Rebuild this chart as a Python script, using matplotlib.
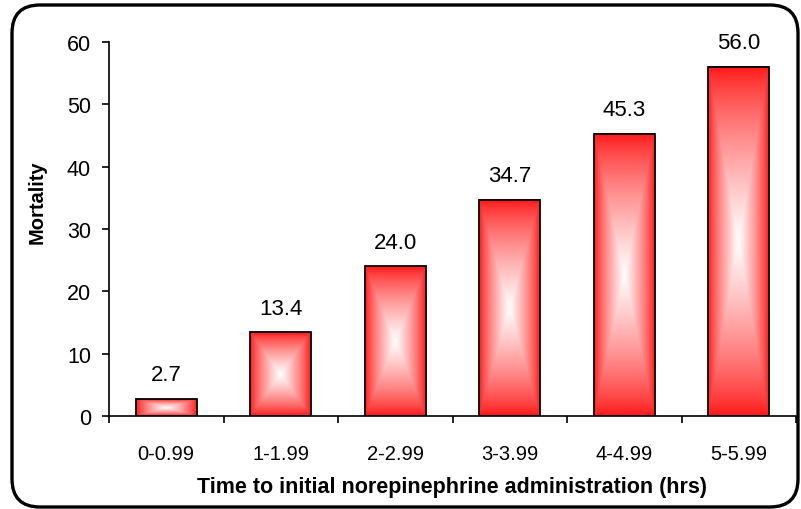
import numpy as np
import matplotlib.pyplot as plt
from matplotlib.patches import FancyBboxPatch, Rectangle

plt.rcParams['font.family'] = ['Liberation Sans', 'DejaVu Sans']

# mortality (%) by hours until first norepinephrine dose
categories = ['0-0.99', '1-1.99', '2-2.99', '3-3.99', '4-4.99', '5-5.99']
mortality = [2.7, 13.4, 24.0, 34.7, 45.3, 56.0]
yticks = [0, 10, 20, 30, 40, 50, 60]

W, H = 801, 510
fig = plt.figure(figsize=(W / 100, H / 100), dpi=100)

# axes box in pixel units
x0, x1 = 109, 796
y0, y1 = 417, 43
ax = fig.add_axes([x0 / W, (H - y0) / H, (x1 - x0) / W, (y0 - y1) / H])

bar_w = 0.53
red = np.array([1.0, 0.07, 0.07])
white = np.array([1.0, 1.0, 1.0])

for i, v in enumerate(mortality):
    left = i + 0.5 - bar_w / 2
    n = 200
    u = (np.arange(n) + 0.5) / n * 2 - 1
    U, V = np.meshgrid(u, u)
    # rectangular shading: red at the edges, white in the middle
    t = 1 - np.maximum(np.abs(U), np.abs(V))
    t = np.clip(t, 0, 1) ** 0.75
    img = red[None, None, :] * (1 - t[..., None]) + white[None, None, :] * t[..., None]
    ax.imshow(img, extent=[left, left + bar_w, 0, v], origin='lower',
              aspect='auto', interpolation='bilinear', zorder=2)
    ax.add_patch(Rectangle((left, 0), bar_w, v, fill=False, edgecolor='black',
                           linewidth=1.3, zorder=3))
    ax.annotate(f'{v:.1f}', (i + 0.5, v), xytext=(0, 10), textcoords='offset points',
                ha='center', va='bottom', fontsize=16)

ax.set_xlim(0, len(categories))
ax.set_ylim(0, 60)
ax.set_xticks(np.arange(len(categories) + 1))
ax.set_xticklabels([])
ax.set_xticks(np.arange(len(categories)) + 0.5, minor=True)
ax.set_xticklabels(categories, minor=True, fontsize=14.5)
ax.tick_params(axis='x', which='minor', length=0, pad=20)
ax.tick_params(axis='x', which='major', length=5, width=1.2, direction='out')
ax.set_yticks(yticks)
ax.tick_params(axis='y', labelsize=15.5, length=5, width=1.2, pad=8)

for side in ['top', 'right']:
    ax.spines[side].set_visible(False)
for side in ['left', 'bottom']:
    ax.spines[side].set_linewidth(1.2)

fig.text(37 / W, 1 - 202 / H, 'Mortality', rotation=90, ha='center', va='center',
         fontsize=14.5, fontweight='bold')
fig.text(452 / W, 1 - 493 / H, 'Time to initial norepinephrine administration (hrs)',
         ha='center', va='baseline', fontsize=15.5, fontweight='bold')

# rounded outer frame
frame = FancyBboxPatch((12 / W, 1 - 508 / H), 786 / W, 502 / H,
                       boxstyle='round,pad=0,rounding_size=0.035',
                       transform=fig.transFigure, fill=False, edgecolor='black',
                       linewidth=2.4, mutation_aspect=W / H)
fig.patches.append(frame)

fig.savefig('out.png', dpi=100)
